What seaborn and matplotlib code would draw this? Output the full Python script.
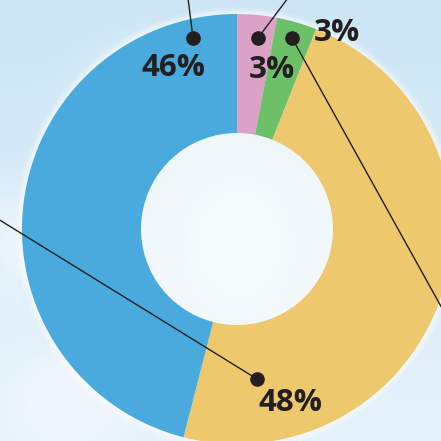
import numpy as np
import matplotlib
matplotlib.use("Agg")
import matplotlib.pyplot as plt
import seaborn as sns
from matplotlib.patches import Circle

# ---- data ----
categories = ["Pink", "Green", "Yellow", "Blue"]
shares = [3, 3, 48, 46]
labels = ["3%", "3%", "48%", "46%"]
colors = ["#d9a2c6", "#6cc168", "#eec86d", "#48aadd"]

sns.set_theme(style="white")
plt.rcParams["font.family"] = ["Open Sans", "DejaVu Sans"]

W = H = 441
fig = plt.figure(figsize=(W / 100, H / 100), dpi=100)

# background sky
bg = fig.add_axes([0, 0, 1, 1])
bg.set_axis_off()
yy, xx = np.mgrid[0:H, 0:W] / H
top = np.array([0.80, 0.90, 0.96])
bot = np.array([0.90, 0.95, 0.985])
img = top[None, None, :] * (1 - yy[..., None]) + bot[None, None, :] * yy[..., None]
# soft cloud-like brightening (deterministic)
blobs = [(0.35, 0.2, 0.12, 0.10), (0.05, 0.55, 0.10, 0.12), (0.9, 0.45, 0.1, 0.1),
         (0.15, 0.9, 0.15, 0.12), (0.54, 0.52, 0.2, 0.25)]
for cx, cy, sx, sy in blobs:
    g = np.exp(-(((xx - cx) / sx) ** 2 + ((yy - cy) / sy) ** 2))
    img = img + (1 - img) * 0.5 * g[..., None]
bg.imshow(np.clip(img, 0, 1), extent=[0, 1, 0, 1], aspect="auto", origin="upper")
bg.set_xlim(0, 1)
bg.set_ylim(0, 1)

ax = fig.add_axes([0, 0, 1, 1])
ax.set_axis_off()
ax.patch.set_alpha(0)

R_px = 215.0
cx_px, cy_px = 237.0, 229.0

def P(px, py):
    return ((px - cx_px) / R_px, (cy_px - py) / R_px)

# white glow around ring
for k, a in zip([1.03, 1.018, 1.008], [0.2, 0.25, 0.3]):
    ax.add_patch(Circle((0, 0), k, color="white", alpha=a, lw=0, zorder=1))

ring_w = (215 - 96) / 215
wedges, _ = ax.pie(shares, colors=colors, startangle=90, counterclock=False,
                   radius=1.0, wedgeprops=dict(width=ring_w, linewidth=0),
                   frame=True)
for w in wedges:
    w.set_zorder(2)
ax.set_xlim(-cx_px / R_px, (W - cx_px) / R_px)
ax.set_ylim(-(H - cy_px) / R_px, cy_px / R_px)
ax.set_aspect("auto")
ax.set_axis_off()

ink = "#231f20"
# label layout: (dot px, line end px, text px)
layout = {
    "Pink": ((258, 38), (288, -2), (272, 70)),
    "Green": ((292, 38), (443, 310), (337, 33)),
    "Yellow": ((257, 379), (-2, 219), (290, 403)),
    "Blue": ((193, 38), (188, -2), (173, 68)),
}
for cat, lab in zip(categories, labels):
    (dx, dy), (lx, ly), (tx, ty) = layout[cat]
    d = P(dx, dy)
    l = P(lx, ly)
    t = P(tx, ty)
    ax.plot([d[0], l[0]], [d[1], l[1]], color=ink, lw=1.0, zorder=5)
    ax.plot([d[0]], [d[1]], "o", color=ink, ms=9.5, zorder=6)
    ax.text(t[0], t[1], lab, ha="center", va="center", fontsize=22.5,
            fontweight="bold", color=ink, zorder=7)

fig.savefig("out.png", dpi=100)
